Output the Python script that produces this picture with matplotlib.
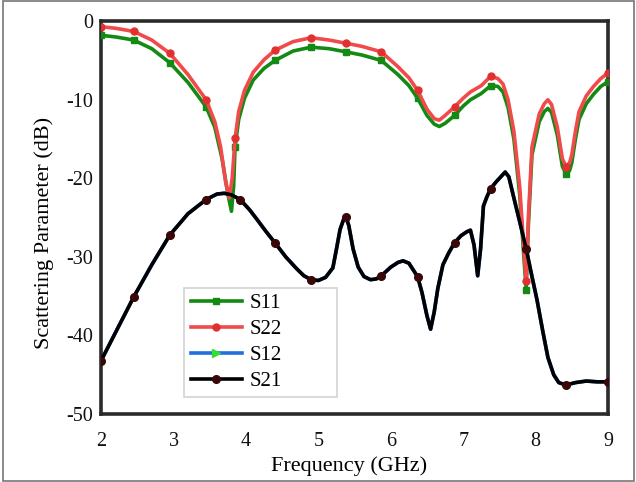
import matplotlib
matplotlib.use("Agg")
import matplotlib.pyplot as plt
from matplotlib.patches import Rectangle

plt.rcParams['font.family'] = ['Liberation Serif', 'DejaVu Serif']
plt.rcParams['axes.unicode_minus'] = False

# ---- data ----
f_s11 = [2.0, 2.2, 2.45, 2.7, 2.95, 3.2, 3.45, 3.57, 3.67, 3.75, 3.8, 3.83, 3.85, 3.9, 3.98, 4.1, 4.25, 4.4, 4.65, 4.9, 5.15, 5.38, 5.6, 5.87, 6.1, 6.25, 6.37, 6.5, 6.6, 6.67, 6.75, 6.88, 7.0, 7.1, 7.25, 7.38, 7.48, 7.55, 7.62, 7.7, 7.78, 7.83, 7.87, 7.9, 7.95, 8.05, 8.12, 8.17, 8.22, 8.3, 8.37, 8.42, 8.47, 8.5, 8.55, 8.6, 8.7, 8.8, 8.9, 9.0]
s11 = [-1.8, -2.0, -2.4, -3.5, -5.3, -7.8, -10.9, -13.5, -17.5, -22.0, -24.2, -21.0, -16.0, -12.5, -9.8, -7.5, -6.0, -5.0, -3.8, -3.3, -3.5, -3.9, -4.3, -5.0, -6.8, -8.2, -9.8, -12.0, -13.1, -13.4, -13.0, -12.0, -10.8, -10.0, -9.2, -8.2, -8.3, -9.0, -11.0, -15.0, -22.0, -29.0, -34.2, -26.0, -17.0, -12.8, -11.5, -11.1, -11.6, -14.5, -18.5, -19.4, -19.0, -18.0, -15.0, -12.5, -10.5, -9.3, -8.3, -7.7]

f_s22 = [2.0, 2.2, 2.45, 2.7, 2.95, 3.2, 3.45, 3.57, 3.65, 3.72, 3.77, 3.81, 3.85, 3.9, 3.98, 4.1, 4.25, 4.4, 4.65, 4.9, 5.15, 5.38, 5.6, 5.87, 6.1, 6.25, 6.37, 6.5, 6.6, 6.67, 6.75, 6.88, 7.0, 7.1, 7.25, 7.38, 7.48, 7.55, 7.62, 7.7, 7.78, 7.83, 7.87, 7.9, 7.95, 8.05, 8.12, 8.17, 8.22, 8.3, 8.37, 8.42, 8.47, 8.5, 8.55, 8.6, 8.7, 8.8, 8.9, 9.0]
s22 = [-0.7, -0.9, -1.3, -2.4, -4.1, -6.8, -10.0, -12.8, -16.0, -20.5, -22.5, -20.0, -14.9, -11.5, -8.8, -6.5, -4.9, -3.7, -2.6, -2.1, -2.4, -2.8, -3.2, -3.9, -5.8, -7.2, -8.8, -11.2, -12.4, -12.6, -12.0, -10.9, -9.8, -9.0, -8.2, -7.0, -7.3, -8.0, -10.0, -14.0, -21.0, -28.0, -33.1, -25.0, -16.0, -11.8, -10.5, -10.0, -10.6, -13.5, -17.5, -18.5, -18.0, -17.0, -14.0, -11.5, -9.5, -8.3, -7.3, -6.6]

f_s21 = [2.0, 2.2, 2.45, 2.7, 2.95, 3.2, 3.45, 3.6, 3.7, 3.8, 3.92, 4.05, 4.15, 4.28, 4.4, 4.55, 4.7, 4.8, 4.9, 5.0, 5.1, 5.2, 5.25, 5.3, 5.35, 5.38, 5.42, 5.48, 5.55, 5.63, 5.72, 5.8, 5.87, 6.0, 6.1, 6.17, 6.25, 6.32, 6.37, 6.43, 6.5, 6.55, 6.6, 6.65, 6.72, 6.8, 6.88, 6.97, 7.05, 7.1, 7.15, 7.2, 7.24, 7.28, 7.33, 7.38, 7.45, 7.52, 7.58, 7.63, 7.7, 7.78, 7.87, 7.95, 8.02, 8.1, 8.17, 8.25, 8.32, 8.42, 8.55, 8.7, 8.85, 9.0]
s21 = [-43.2, -39.6, -35.1, -31.0, -27.2, -24.5, -22.7, -22.0, -21.9, -22.1, -22.7, -24.0, -25.2, -26.8, -28.2, -30.0, -31.5, -32.4, -32.9, -33.0, -32.6, -31.4, -29.0, -26.5, -25.2, -24.9, -26.0, -29.0, -31.3, -32.5, -32.9, -32.8, -32.4, -31.3, -30.7, -30.5, -30.8, -31.8, -32.5, -34.5, -37.5, -39.2, -37.0, -34.0, -31.0, -29.5, -28.2, -27.3, -26.8, -26.6, -28.5, -32.4, -29.0, -23.5, -22.3, -21.3, -20.5, -19.8, -19.2, -19.8, -22.5, -25.5, -29.0, -32.5, -35.5, -39.5, -42.8, -45.0, -46.0, -46.3, -46.0, -45.8, -45.9, -45.9]
f_s12 = f_s21
s12 = s21

mark_f11 = [2.0, 2.45, 2.95, 3.45, 3.85, 4.4, 4.9, 5.38, 5.87, 6.37, 6.88, 7.38, 7.87, 8.42, 9.0]
mark_f21 = [2.0, 2.45, 2.95, 3.45, 3.92, 4.4, 4.9, 5.38, 5.87, 6.37, 6.88, 7.38, 7.87, 8.42, 9.0]

xticks = [2, 3, 4, 5, 6, 7, 8, 9]
yticks = [0, -10, -20, -30, -40, -50]

def idx(fs, marks):
    return [i for i, f in enumerate(fs) if any(abs(f - m) < 1e-9 for m in marks)]

fig = plt.figure(figsize=(6.36, 4.82), dpi=100)
ax = fig.add_axes([0.159, 0.141, 0.797, 0.815])

lw = 2.6
ax.plot(f_s12, s12, color='#1f6fe0', lw=lw, marker='>', ms=3.5, mfc='#33dd33', mec='#33dd33',
        markevery=idx(f_s12, mark_f21), label='S12', zorder=2)
ax.plot(f_s11, s11, color='#138a13', lw=lw, marker='s', ms=5, mfc='#138a13', mec='#138a13',
        markevery=idx(f_s11, mark_f11), label='S11', zorder=3)
ax.plot(f_s22, s22, color='#f24a4a', lw=lw, marker='o', ms=5, mfc='#e03030', mec='#e03030',
        markevery=idx(f_s22, mark_f11), label='S22', zorder=4)
ax.plot(f_s21, s21, color='#000000', lw=lw, marker='o', ms=5.5, mfc='#3a0808', mec='#3a0808',
        markevery=idx(f_s21, mark_f21), label='S21', zorder=5)

ax.set_xlim(2, 9)
ax.set_ylim(-50, 0)
ax.set_xticks(xticks)
ax.set_yticks(yticks)
ax.tick_params(length=0, labelsize=14.5, colors='#111111')
ax.tick_params(axis='x', pad=13)
ax.tick_params(axis='y', pad=6)
for s in ax.spines.values():
    s.set_color('#2a2a2a')
    s.set_linewidth(2.6)
ax.set_xlabel('Frequency (GHz)', fontsize=16)
ax.set_ylabel('Scattering Parameter (dB)', fontsize=16)
ax.xaxis.set_label_coords(0.489, -0.108)
ax.yaxis.set_label_coords(-0.092, 0.46)

h, l = ax.get_legend_handles_labels()
order = [l.index(n) for n in ['S11', 'S22', 'S12', 'S21']]
leg = ax.legend([h[i] for i in order], [l[i] for i in order],
                loc='lower left', bbox_to_anchor=(0.164, 0.043, 0.301, 0.273),
                mode='expand', fontsize=15, frameon=True, fancybox=False,
                handlelength=2.45, labelspacing=0.3, borderpad=0.3, handletextpad=0.4,
                borderaxespad=0.0, markerscale=1.0)
for lh in leg.legend_handles:
    if lh.get_label() == 'S12' or lh.get_marker() == '>':
        lh.set_markersize(6)
leg.get_frame().set_edgecolor('#cccccc')
leg.get_frame().set_linewidth(1.3)

fig.patches.append(Rectangle((0.005, 0.003), 0.992, 0.994, transform=fig.transFigure,
                             fill=False, edgecolor='#777777', linewidth=1.2))

fig.savefig('out.png', dpi=100)
